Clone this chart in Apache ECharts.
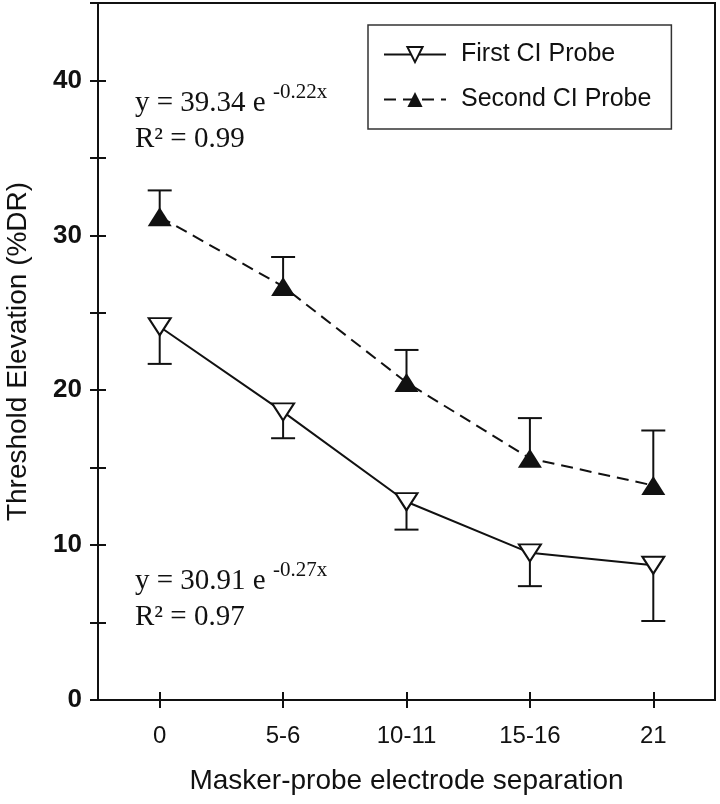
<!DOCTYPE html>
<html>
<head>
<meta charset="utf-8">
<script src="https://cdn.jsdelivr.net/npm/echarts@6/dist/echarts.min.js"></script>
<style>
html,body{margin:0;padding:0;background:#fff;}
#chart{width:720px;height:804px;}
</style>
</head>
<body>
<div id="chart"></div>
<script>
// ---- data ----
var categories = ['0', '5-6', '10-11', '15-16', '21'];
var firstMean = [24.1, 18.6, 12.8, 9.5, 8.7];
var firstErr = [2.4, 1.7, 1.8, 2.15, 3.6];      // drawn downward
var secondMean = [31.2, 26.7, 20.5, 15.6, 13.85];
var secondErr = [1.7, 1.9, 2.1, 2.6, 3.55];     // drawn upward
var yTicks = [0, 10, 20, 30, 40];
var seriesNames = ['First CI Probe', 'Second CI Probe'];
var eqUpper = ['y = 39.34 e', '-0.22x', 'R\u00b2 = 0.99'];
var eqLower = ['y = 30.91 e', '-0.27x', 'R\u00b2 = 0.97'];

var INK = '#111';
var SANS = '"Liberation Sans", Arial, sans-serif';
var SERIF = '"Liberation Serif", "Times New Roman", serif';

function errData(mean, err, dir) {
  return mean.map(function (m, i) { return [i, m, m + dir * err[i]]; });
}

function errRender(params, api) {
  var x = api.value(0);
  var p0 = api.coord([x, api.value(1)]);
  var p1 = api.coord([x, api.value(2)]);
  var hw = 12;
  var st = { stroke: INK, lineWidth: 2, fill: null };
  return {
    type: 'group',
    children: [
      { type: 'line', shape: { x1: p0[0], y1: p0[1], x2: p1[0], y2: p1[1] }, style: st },
      { type: 'line', shape: { x1: p1[0] - hw, y1: p1[1], x2: p1[0] + hw, y2: p1[1] }, style: st }
    ]
  };
}

var chart = echarts.init(document.getElementById('chart'), null, { renderer: 'canvas' });

var axisLineStyle = { color: INK, width: 2 };
var hiddenLine = { show: true, lineStyle: { color: 'rgba(0,0,0,0)', width: 0 } };

var option = {
  animation: false,
  backgroundColor: '#fff',
  grid: { left: 98, right: 5, top: 3, bottom: 104, show: true, borderColor: INK, borderWidth: 2,
          backgroundColor: 'transparent', containLabel: false, outerBoundsMode: 'none' },
  legend: {
    orient: 'vertical',
    left: 368, top: 25,
    data: seriesNames,
    itemWidth: 62, itemHeight: 19, itemGap: 20,
    padding: [17, 20, 17, 15],
    borderColor: '#333', borderWidth: 1.5,
    textStyle: { fontSize: 25, color: INK, fontFamily: SANS, padding: [0, 0, 0, 10] }
  },
  xAxis: [
    {
      type: 'category', data: categories, boundaryGap: true,
      axisLine: { lineStyle: axisLineStyle },
      axisTick: { show: true, alignWithLabel: true, length: 8, lineStyle: axisLineStyle },
      axisLabel: { fontSize: 24, color: INK, margin: 24, fontFamily: SANS },
      splitLine: { show: false },
      name: 'Masker-probe electrode separation', nameLocation: 'middle', nameGap: 67,
      nameTextStyle: { fontSize: 28, color: INK, fontFamily: SANS }
    },
    {
      type: 'category', data: categories, boundaryGap: true, position: 'bottom', offset: 0,
      axisLine: hiddenLine,
      axisTick: { show: true, inside: true, alignWithLabel: true, length: 8, lineStyle: axisLineStyle },
      axisLabel: { show: false }, splitLine: { show: false }
    }
  ],
  yAxis: [
    {
      type: 'value', min: 0, max: 45, interval: 5,
      axisLine: { show: true, lineStyle: axisLineStyle },
      axisTick: { show: true, length: 8, lineStyle: axisLineStyle },
      axisLabel: {
        fontSize: 26, fontWeight: 'bold', color: INK, margin: 16, fontFamily: SANS,
        formatter: function (v) { return yTicks.indexOf(v) >= 0 ? String(v) : ''; }
      },
      splitLine: { show: false },
      name: 'Threshold Elevation (%DR)', nameLocation: 'middle', nameGap: 66,
      nameTextStyle: { fontSize: 28, color: INK, fontFamily: SANS }
    },
    {
      type: 'value', min: 0, max: 45, interval: 5, position: 'left', offset: 0,
      axisLine: hiddenLine,
      axisTick: { show: true, inside: true, length: 8, lineStyle: axisLineStyle },
      axisLabel: { show: false }, splitLine: { show: false }
    }
  ],
  series: [
    {
      type: 'custom', name: 'errFirst', renderItem: errRender, z: 1,
      data: errData(firstMean, firstErr, -1), encode: { x: 0, y: [1, 2] }, silent: true
    },
    {
      type: 'custom', name: 'errSecond', renderItem: errRender, z: 1,
      data: errData(secondMean, secondErr, 1), encode: { x: 0, y: [1, 2] }, silent: true
    },
    {
      name: seriesNames[0], type: 'line', data: firstMean, z: 3,
      symbol: 'triangle', symbolRotate: 180, symbolSize: [22, 17], showAllSymbol: true,
      lineStyle: { color: INK, width: 2 },
      itemStyle: { color: '#fff', borderColor: INK, borderWidth: 2 }
    },
    {
      name: seriesNames[1], type: 'line', data: secondMean, z: 3,
      symbol: 'triangle', symbolSize: [24, 19], showAllSymbol: true,
      lineStyle: { color: INK, width: 2, type: [12, 7] },
      itemStyle: { color: INK, borderColor: INK, borderWidth: 0 }
    }
  ],
  graphic: [
    { type: 'text', left: 135, top: 89, style: { text: eqUpper[0], font: '29px ' + SERIF, fill: INK } },
    { type: 'text', left: 273, top: 82, style: { text: eqUpper[1], font: '21px ' + SERIF, fill: INK } },
    { type: 'text', left: 135, top: 125, style: { text: eqUpper[2], font: '29px ' + SERIF, fill: INK } },
    { type: 'text', left: 135, top: 567, style: { text: eqLower[0], font: '29px ' + SERIF, fill: INK } },
    { type: 'text', left: 273, top: 560, style: { text: eqLower[1], font: '21px ' + SERIF, fill: INK } },
    { type: 'text', left: 135, top: 603, style: { text: eqLower[2], font: '29px ' + SERIF, fill: INK } }
  ]
};

chart.setOption(option);
</script>
</body>
</html>
